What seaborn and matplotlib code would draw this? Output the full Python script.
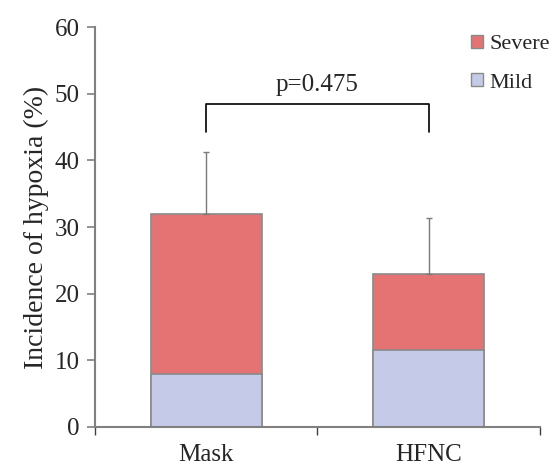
import numpy as np
import pandas as pd
import matplotlib.pyplot as plt
import seaborn as sns
from matplotlib.patches import Patch

# данные
groups = ['Mask', 'HFNC']
mild = [8.0, 11.5]
severe = [24.0, 11.5]
err_up = [9.3, 8.4]
p_text = 'p=0.475'

df = pd.DataFrame({'group': groups, 'mild': mild, 'severe': severe})
df['total'] = df['mild'] + df['severe']

sns.set_style('white')
plt.rcParams['font.family'] = ['Liberation Serif', 'DejaVu Serif']

fig = plt.figure(figsize=(5.53, 4.66), dpi=100)
ax = fig.add_axes([0.172, 0.0837, 0.804, 0.858])

c_severe = '#E57373'
c_mild = '#C5CAE8'
edge = '#8a8a8a'

# сначала полная высота (severe), поверх — mild
sns.barplot(df, x='group', y='total', color=c_severe, saturation=1, width=0.5,
            edgecolor=edge, linewidth=1.2, ax=ax, errorbar=None)
sns.barplot(df, x='group', y='mild', color=c_mild, saturation=1, width=0.5,
            edgecolor=edge, linewidth=1.2, ax=ax, errorbar=None)

# усы только вверх
x = np.arange(len(groups))
ax.errorbar(x, df['total'], yerr=[np.zeros(len(groups)), err_up], fmt='none',
            ecolor='#7a7a7a', elinewidth=1, capsize=2.5, capthick=1)

# скобка с p-значением
y_br = 48.4
ax.plot([0, 0, 1, 1], [44.3, y_br, y_br, 44.3], color='black', lw=1.2)
ax.text(0.5, y_br + 1.3, p_text, ha='center', va='bottom', fontsize=18)

ax.set_xlim(-0.5, 1.5)
ax.set_ylim(0, 60)
ax.set_yticks(range(0, 61, 10))
ax.set_xticks(x)
ax.set_xticks([-0.5, 0.5, 1.5], minor=True)
ax.tick_params(axis='y', direction='out', length=6, color='#808080', width=1.2,
               labelsize=18, left=True, pad=5)
ax.tick_params(axis='x', which='major', length=0, labelsize=18, pad=12)
ax.tick_params(axis='x', which='minor', direction='out', length=6, color='#404040',
               width=1, bottom=True)
ax.set_xlabel('')
ax.set_ylabel('Incidence of hypoxia (%)', fontsize=20, labelpad=4)

for s in ['top', 'right']:
    ax.spines[s].set_visible(False)
for s in ['left', 'bottom']:
    ax.spines[s].set_color('#808080')
    ax.spines[s].set_linewidth(1.5)

# легенда
handles = [Patch(facecolor=c_severe, edgecolor=edge, label='Severe'),
           Patch(facecolor=c_mild, edgecolor=edge, label='Mild')]
ax.legend(handles=handles, loc='upper left', bbox_to_anchor=(0.831, 0.998), frameon=False,
          fontsize=16, handlelength=0.55, handleheight=0.55, handletextpad=0.25,
          labelspacing=0.85, borderaxespad=0, borderpad=0.3)

plt.savefig('out.png', dpi=100)
plt.close()
